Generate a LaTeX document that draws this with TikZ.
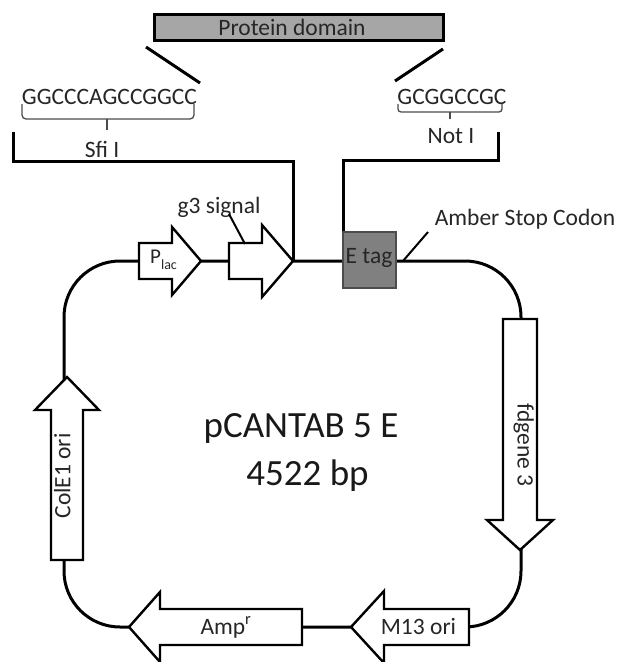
\documentclass[tikz,border=0pt]{standalone}
\usepackage{fontspec}
\setmainfont{Carlito}
\begin{document}
\begin{tikzpicture}[x=1pt,y=-1pt,
  lbl/.style={font=\fontsize{23.5}{28}\selectfont, inner sep=0pt, text=black!85},
  big/.style={font=\fontsize{37}{44}\selectfont, inner sep=0pt, text=black!90},
  feat/.style={draw=black, line width=2.4pt, fill=white, line join=miter},
  bb/.style={line width=3pt, draw=black},
  brace/.style={line width=1.3pt, draw=black!70},
  pointer/.style={line width=2pt, draw=black}]
\useasboundingbox (0,0) rectangle (620,662);

% protein domain box
\node[draw=black, line width=3.5pt, fill=black!35, minimum width=289pt, minimum height=26pt, inner sep=0pt] (pd) at (299,27.5) {};
\node[lbl, anchor=base] (pdt) at (292,35) {Protein domain};
\coordinate (dl1) at (146,47); \coordinate (dl2) at (200,83);
\coordinate (dr1) at (443,49); \coordinate (dr2) at (395,81);
\draw[bb] (dl1) -- (dl2);
\draw[bb] (dr1) -- (dr2);

% sequences
\node[lbl, anchor=base] (sfiseq) at (109.5,104) {GGCCCAGCCGGCC};
\node[lbl, anchor=base] (notseq) at (452,104) {GCGGCCGC};
\draw[brace, rounded corners=4pt] (22,104) -- (22,119) -- (194,119) -- (194,104);
\draw[brace] (107,119) -- (107,130);
\draw[brace, rounded corners=3pt] (398,104) -- (398,112) -- (502,112) -- (502,104);
\draw[brace] (450,112) -- (450,119);
\node[lbl, anchor=base] (sfi) at (102,157) {Sfi I};
\node[lbl, anchor=base] (not) at (451,143) {Not I};

% backbone
\draw[bb, rounded corners=56pt] (318,261) -- (521,261) -- (521,627) -- (64,627) -- (64,261) -- cycle;

% insertion brackets
\draw[bb] (13,132) -- (13,161) -- (293,161) -- (293,261);
\draw[bb] (498,132) -- (498,160) -- (343,160) -- (343,232);

% features
\draw[feat] (139,243) -- (172,243) -- (172,227) -- (201,261) -- (172,295) -- (172,279) -- (139,279) -- cycle;
\node[lbl, anchor=base west, font=\fontsize{21}{24}\selectfont] (plac) at (150,263) {P\raisebox{-6pt}{\fontsize{14}{14}\selectfont lac}};
\draw[feat] (229,243) -- (262,243) -- (262,225) -- (293,261) -- (262,297) -- (262,279) -- (229,279) -- cycle;
\draw[feat] (503,319) -- (537,319) -- (537,520) -- (553,520) -- (520,550) -- (487,520) -- (503,520) -- cycle;
\node[lbl, anchor=mid, rotate=-90] (fd) at (520,445) {fdgene 3};
\draw[feat] (51,560) -- (83,560) -- (83,410) -- (99,410) -- (67,377) -- (35,410) -- (51,410) -- cycle;
\node[lbl, anchor=mid, rotate=90] (cole) at (68,476) {ColE1 ori};
\draw[feat] (302,609) -- (160,609) -- (160,592) -- (129,627) -- (160,662) -- (160,645) -- (302,645) -- cycle;
\node[lbl, anchor=base] (amp) at (226,634) {Amp\textsuperscript{r}};
\draw[feat] (469,609) -- (384,609) -- (384,591) -- (351,627) -- (384,663) -- (384,645) -- (469,645) -- cycle;
\node[lbl, anchor=base] (m13) at (418.5,634) {M13 ori};

% E tag
\node[draw=black!70, line width=1.2pt, fill=black!50, minimum width=53pt, minimum height=56pt, inner sep=0pt] (etag) at (369.5,260) {};
\node[lbl, anchor=base] (etagt) at (369,263) {E tag};

% pointer labels
\node[lbl, anchor=base] (g3) at (219,213) {g3 signal};
\coordinate (g3a) at (229,214); \coordinate (g3b) at (245,244);
\draw[pointer] (g3a) -- (g3b);
\node[lbl, anchor=base] (amber) at (525,225) {Amber Stop Codon};
\coordinate (ama) at (428,232); \coordinate (amb) at (403,261);
\draw[pointer] (ama) -- (amb);

% centre title
\node[big, anchor=base] (name) at (301,437) {pCANTAB 5 E};
\node[big, anchor=base] (size) at (307.5,485) {4522 bp};
\end{tikzpicture}
\end{document}
